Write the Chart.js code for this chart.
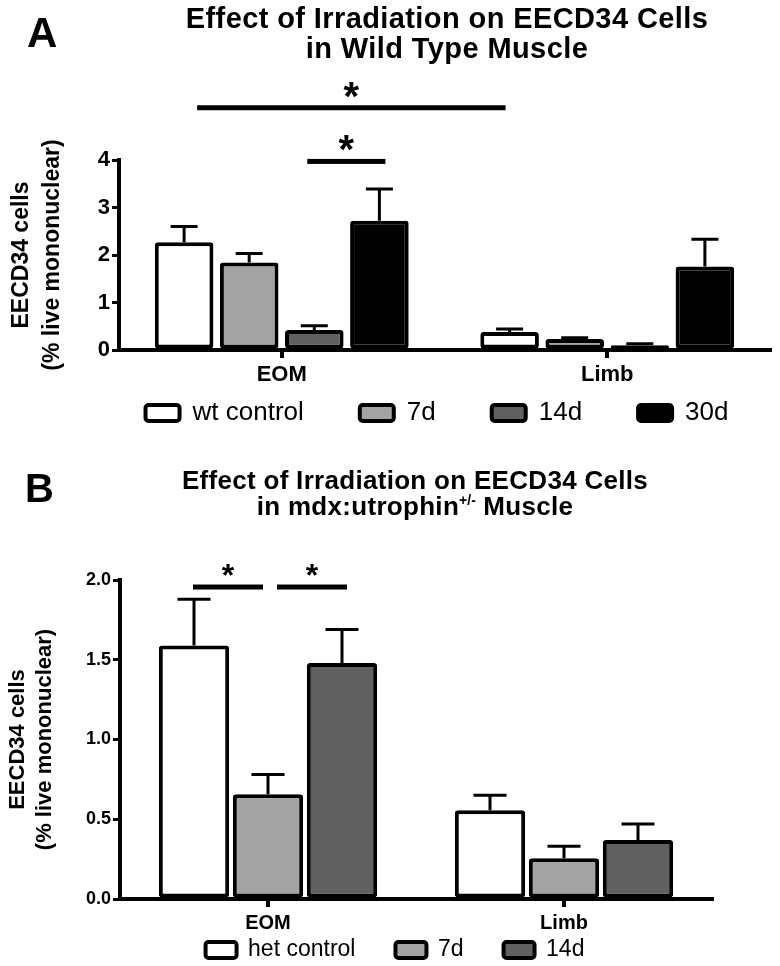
<!DOCTYPE html>
<html>
<head>
<meta charset="utf-8">
<script src="https://cdn.jsdelivr.net/npm/chart.js@4.4.1/dist/chart.umd.min.js"></script>
<style>
  html, body { margin: 0; padding: 0; background: #fff; }
  #page { position: relative; width: 780px; height: 966px; overflow: hidden;
          font-family: "Liberation Sans", Arial, Helvetica, sans-serif; color: #000; }
  canvas { position: absolute; left: 0; }
  .panel { position: absolute; font-weight: bold; }
  .title { position: absolute; width: 600px; text-align: center; font-weight: bold; white-space: nowrap; }
  .sup { position: relative; top: -10px; font-size: 14px; letter-spacing: 0; }
</style>
</head>
<body>
<div id="page">
  <canvas id="chartA" width="780" height="490" style="top:0"></canvas>
  <canvas id="chartB" width="780" height="550" style="top:470px"></canvas>

  <div class="panel" style="left:27px; top:12px; font-size:42px; line-height:42px;">A</div>
  <div class="title" style="left:147px; top:3px; font-size:29px; line-height:30px; letter-spacing:0.4px;">
    Effect of Irradiation on EECD34 Cells<br>in Wild Type Muscle
  </div>

  <div class="panel" style="left:25px; top:468px; font-size:40px; line-height:40px;">B</div>
  <div class="title" style="left:115px; top:467px; font-size:26px; line-height:26px; letter-spacing:0.3px;">
    Effect of Irradiation on EECD34 Cells<br>in mdx:utrophin<span class="sup">+/-</span> Muscle
  </div>
</div>

<script>
// ---- data ----
const categories = ['EOM', 'Limb'];

// panel A, wild type muscle
const seriesA = ['wt control', '7d', '14d', '30d'];
const wtControlA = [2.27, 0.38];
const day7A = [1.84, 0.23];
const day14A = [0.42, 0.10];
const day30A = [2.72, 1.76];
const wtControlErrA = [0.33, 0.06];
const day7ErrA = [0.19, 0.03];
const day14ErrA = [0.09, 0.03];
const day30ErrA = [0.67, 0.57];
const ticksA = [0, 1, 2, 3, 4];

// panel B, mdx:utrophin+/- muscle
const seriesB = ['het control', '7d', '14d'];
const hetControlB = [1.59, 0.556];
const day7B = [0.656, 0.256];
const day14B = [1.48, 0.37];
const hetControlErrB = [0.29, 0.094];
const day7ErrB = [0.125, 0.075];
const day14ErrB = [0.21, 0.10];
const ticksB = [0, 0.5, 1.0, 1.5, 2.0];

const FONT = '"Liberation Sans", Arial, Helvetica, sans-serif';
const fills = ['#ffffff', '#a3a3a3', '#606060', '#000000'];

Chart.defaults.font.family = FONT;
Chart.defaults.color = '#000';

// SEM whiskers, upward only (the bar hides the lower half)
function errorBars(cap) {
  return {
    id: 'errorBars',
    afterDatasetsDraw(chart) {
      const ctx = chart.ctx, y = chart.scales.y;
      ctx.save();
      ctx.strokeStyle = '#000';
      ctx.lineWidth = 3;
      chart.data.datasets.forEach((ds, i) => {
        chart.getDatasetMeta(i).data.forEach((bar, j) => {
          const top = y.getPixelForValue(ds.data[j]);
          const end = y.getPixelForValue(ds.data[j] + ds.errors[j]);
          ctx.beginPath();
          ctx.moveTo(bar.x, top);
          ctx.lineTo(bar.x, end);
          ctx.moveTo(bar.x - cap / 2, end);
          ctx.lineTo(bar.x + cap / 2, end);
          ctx.stroke();
        });
      });
      ctx.restore();
    }
  };
}

// significance lines with a star on top
function sigBrackets(list, lineW, starSize, lift) {
  return {
    id: 'sigBrackets',
    afterDraw(chart) {
      const ctx = chart.ctx, y = chart.scales.y;
      ctx.save();
      ctx.fillStyle = '#000';
      list.forEach(b => {
        const x1 = chart.getDatasetMeta(b.from[0]).data[b.from[1]].x + b.inset[0];
        const x2 = chart.getDatasetMeta(b.to[0]).data[b.to[1]].x + b.inset[1];
        const py = y.getPixelForValue(b.at);
        ctx.fillRect(x1, py - lineW / 2, x2 - x1, lineW);
        ctx.font = 'bold ' + starSize + 'px ' + FONT;
        ctx.textAlign = 'center';
        ctx.textBaseline = 'alphabetic';
        ctx.fillText('*', (x1 + x2) / 2, py - lift + 0.57 * starSize);
      });
      ctx.restore();
    }
  };
}

// the legend keeps its own spacing, but sits where the figure has it
function placeLegend(cx, cy) {
  return {
    id: 'placeLegend',
    afterLayout(chart) {
      const lg = chart.legend;
      const lab = lg.options.labels;
      const itemH = Math.max(lab.font.size, lab.boxHeight);
      const w = lg.right - lg.left, h = lg.bottom - lg.top;
      lg.top = cy - lab.padding - itemH / 2;
      lg.bottom = lg.top + h;
      lg.left = cx - w / 2;
      lg.right = cx + w / 2;
    }
  };
}

function makeDatasets(labels, values, errors, bw) {
  return labels.map((label, i) => ({
    label: label,
    data: values[i],
    errors: errors[i],
    backgroundColor: fills[i],
    borderColor: '#000',
    borderWidth: bw,
    borderRadius: 3,
    borderSkipped: false
  }));
}

function axisOpts(cfg) {
  return {
    x: {
      grid: { display: true, drawOnChartArea: false, drawTicks: true, offset: false,
              tickLength: 8, color: '#000', lineWidth: 4 },
      border: { display: true, color: '#000', width: 4 },
      ticks: { font: { size: cfg.xFont, weight: 'bold' }, padding: 4 },
      afterFit: s => { s.height = 45; }
    },
    y: {
      min: cfg.ticks[0],
      max: cfg.ticks[cfg.ticks.length - 1],
      afterBuildTicks: s => { s.ticks = cfg.ticks.map(v => ({ value: v })); },
      grid: { display: true, drawOnChartArea: false, drawTicks: true,
              tickLength: 7, color: '#000', lineWidth: 3 },
      border: { display: true, color: '#000', width: 4 },
      ticks: { font: { size: cfg.yFont, weight: 'bold' }, padding: 2, callback: cfg.fmt },
      title: { display: true, text: ['EECD34 cells', '(% live mononuclear)'],
               font: { size: cfg.titleFont, weight: 'bold', lineHeight: cfg.titleLH },
               padding: { top: cfg.titlePad, bottom: 0 } },
      afterFit: s => { s.width = cfg.yWidth; }
    }
  };
}

// ---- panel A ----
new Chart(document.getElementById('chartA'), {
  type: 'bar',
  data: {
    labels: categories,
    datasets: makeDatasets(seriesA,
      [wtControlA, day7A, day14A, day30A],
      [wtControlErrA, day7ErrA, day14ErrA, day30ErrA], 4)
  },
  options: {
    responsive: false,
    animation: false,
    devicePixelRatio: 1,
    categoryPercentage: 0.8,
    barPercentage: 0.9,
    layout: { padding: { top: 160, left: 0, right: 10, bottom: 3 } },
    scales: axisOpts({ ticks: ticksA, xFont: 22, yFont: 22, titleFont: 23, titleLH: 1.35,
                       titlePad: 6, yWidth: 119, fmt: v => String(v) }),
    plugins: {
      tooltip: { enabled: false },
      legend: {
        position: 'bottom',
        labels: { font: { size: 26 }, boxWidth: 34, boxHeight: 16, padding: 56,
                  useBorderRadius: true, borderRadius: 3 }
      }
    }
  },
  plugins: [errorBars(27), placeLegend(437, 413), sigBrackets([
    { from: [0, 0], to: [0, 1], at: 5.1, inset: [13, -4] },
    { from: [2, 0], to: [3, 0], at: 3.97, inset: [-7, 6] }
  ], 5, 40, 21)]
});

// ---- panel B ----
new Chart(document.getElementById('chartB'), {
  type: 'bar',
  data: {
    labels: categories,
    datasets: makeDatasets(seriesB,
      [hetControlB, day7B, day14B],
      [hetControlErrB, day7ErrB, day14ErrB], 4)
  },
  options: {
    responsive: false,
    animation: false,
    devicePixelRatio: 1,
    categoryPercentage: 0.75,
    barPercentage: 0.95,
    layout: { padding: { top: 110, left: 0, right: 68, bottom: 3 } },
    scales: axisOpts({ ticks: ticksB, xFont: 20, yFont: 18, titleFont: 22, titleLH: 1.23,
                       titlePad: 4, yWidth: 120, fmt: v => v.toFixed(1) }),
    plugins: {
      tooltip: { enabled: false },
      legend: {
        position: 'bottom',
        labels: { font: { size: 23 }, boxWidth: 31, boxHeight: 16, padding: 40,
                  useBorderRadius: true, borderRadius: 3 }
      }
    }
  },
  plugins: [errorBars(33), placeLegend(395, 480), sigBrackets([
    { from: [0, 0], to: [1, 0], at: 1.956, inset: [-1, -5] },
    { from: [1, 0], to: [2, 0], at: 1.956, inset: [9, 5] }
  ], 5, 32, 19)]
});
</script>
</body>
</html>
